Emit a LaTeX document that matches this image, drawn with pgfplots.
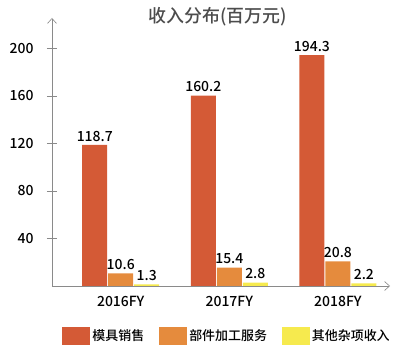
\documentclass[border=0pt]{standalone}
\usepackage{fontspec}
\setmainfont{Noto Sans CJK SC}
\newfontfamily\medfont{Noto Sans CJK SC Medium}
\usepackage{pgfplots}
\pgfplotsset{compat=1.18}
\usetikzlibrary{arrows.meta}
\definecolor{cred}{HTML}{D45A36}
\definecolor{corange}{HTML}{E58B3D}
\definecolor{cyellow}{HTML}{F6EA4E}
\definecolor{axgray}{HTML}{8A8A8A}
\begin{document}
\begin{tikzpicture}
\path[use as bounding box] (0,0) rectangle (410bp,354bp);
\begin{axis}[
  at={(52bp,68bp)}, anchor=south west,
  scale only axis, width=338bp, height=268bp,
  xmin=-0.633, xmax=2.48, ymin=0, ymax=225.5,
  axis lines=left,
  axis line style={axgray, line width=0.6bp, -{Straight Barb[length=5bp,width=9bp]}},
  ybar=1bp, bar width=25bp,
  xtick=data, xticklabels={2016FY,2017FY,2018FY},
  x tick style={draw=none},
  ytick={40,80,120,160,200},
  y tick style={axgray, line width=0.6bp},
  tick align=center, major tick length=10bp,
  /pgf/number format/assume math mode=true,
  tick label style={font=\medfont\fontsize{14}{16}\selectfont, text=black},
  xticklabel style={yshift=-2bp},
  yticklabel style={xshift=-10bp},
  nodes near coords,
  every node near coord/.append style={font=\medfont\fontsize{14}{16}\selectfont, text=black, yshift=0bp},
  nodes near coords style={/pgf/number format/.cd, fixed, fixed zerofill, precision=1},
  title={收入分布(百万元)},
  title style={font=\medfont\fontsize{18}{20}\selectfont, text=black!70, at={(0.49,1)}, anchor=center, yshift=-5bp},
  legend columns=3,
  legend style={draw=none, fill=none, at={(0.518,-0.187)}, anchor=center,
    font=\medfont\fontsize{13}{15}\selectfont,
    /tikz/every even column/.append style={column sep=13bp}},
  legend image code/.code={\fill[#1] (0bp,-9bp) rectangle (28bp,9bp);},
]
\addplot[fill=cred, draw=none] coordinates {(0,118.7) (1,160.2) (2,194.3)};
\addplot[fill=corange, draw=none] coordinates {(0,10.6) (1,15.4) (2,20.8)};
\addplot[fill=cyellow, draw=none] coordinates {(0,1.3) (1,2.8) (2,2.2)};
\legend{模具销售,部件加工服务,其他杂项收入}
\end{axis}
\end{tikzpicture}
\end{document}
